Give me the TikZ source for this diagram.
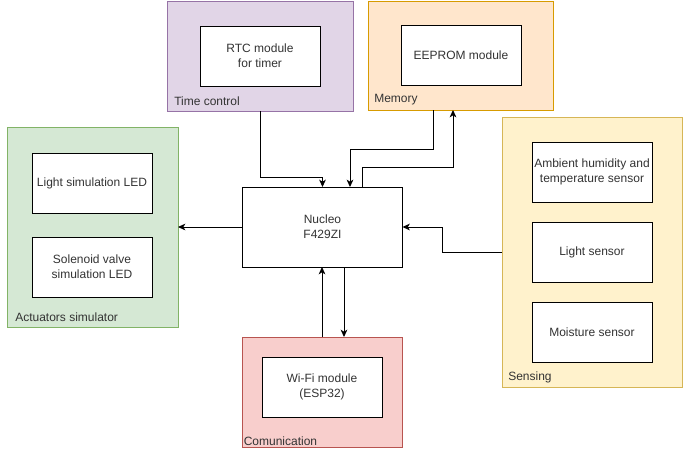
\documentclass[tikz,border=0pt]{standalone}
\usepackage{fontspec}
\setmainfont{Liberation Sans}
\usetikzlibrary{arrows.meta}
\definecolor{purpfill}{HTML}{E1D5E7}\definecolor{purpline}{HTML}{9673A6}
\definecolor{orfill}{HTML}{FFE6CC}\definecolor{orline}{HTML}{D79B00}
\definecolor{grfill}{HTML}{D5E8D4}\definecolor{grline}{HTML}{82B366}
\definecolor{yefill}{HTML}{FFF2CC}\definecolor{yeline}{HTML}{D6B656}
\definecolor{refill}{HTML}{F8CECC}\definecolor{reline}{HTML}{B85450}
\definecolor{txt}{HTML}{333333}
\tikzset{
  grp/.style={draw, line width=0.75pt, inner sep=0pt, outer sep=0pt},
  blk/.style={draw, fill=white, line width=0.75pt, minimum width=90pt, minimum height=45pt,
    align=center, inner sep=1pt, outer sep=0pt, font=\fontsize{9pt}{11pt}\selectfont, text=txt},
  glabel/.style={anchor=west, inner sep=0pt, font=\fontsize{9pt}{11pt}\selectfont, text=txt},
  arr/.style={draw, line width=0.75pt, -{Stealth[length=5.5pt,width=5pt,inset=1.5pt]}},
}
\begin{document}
\begin{tikzpicture}[x=0.75pt,y=-0.75pt]
\useasboundingbox (0,0) rectangle (683,458);
% groups
\node[grp, fill=purpfill, draw=purpline, minimum width=139.5pt, minimum height=82.5pt] (tc) at (260,56) {};
\node[grp, fill=orfill, draw=orline, minimum width=138.75pt, minimum height=81.75pt] (mem) at (460.5,55.5) {};
\node[grp, fill=grfill, draw=grline, minimum width=128.25pt, minimum height=150pt] (act) at (92.5,227) {};
\node[grp, fill=yefill, draw=yeline, minimum width=135pt, minimum height=202.5pt] (sen) at (592,252) {};
\node[grp, fill=refill, draw=reline, minimum width=120pt, minimum height=82.5pt] (com) at (322,392) {};
% group labels
\node[glabel] (tcl) at (174,101) {Time control};
\node[glabel] (meml) at (374,100) {Memory};
\node[glabel] (actl) at (15,317) {Actuators simulator};
\node[glabel] (senl) at (508,377) {Sensing};
\node[glabel] (coml) at (243.5,441) {Comunication};
% blocks
\node[blk] (rtc) at (260,56) {RTC module\\for timer};
\node[blk] (eep) at (461,55) {EEPROM module};
\node[blk] (led1) at (92,183) {Light simulation LED};
\node[blk] (led2) at (92,267) {Solenoid valve\\simulation LED};
\node[blk] (s1) at (592,172) {Ambient humidity and\\temperature sensor};
\node[blk] (s2) at (592,252) {Light sensor};
\node[blk] (s3) at (592,332) {Moisture sensor};
\node[blk] (wifi) at (322,387) {Wi-Fi module\\(ESP32)};
\node[blk, minimum width=120pt, minimum height=60pt] (nuc) at (322.5,227) {Nucleo\\F429ZI};
% connectors
\draw[arr] (tc.south) |- (322.5,177) -- (nuc.north);
\draw[arr] (433,0 |- mem.south) |- (350,149) -- (350,0 |- nuc.north);
\draw[arr] (362,0 |- nuc.north) |- (453,167.5) -- (453,0 |- mem.south);
\draw[arr] (nuc.west) -- (act.east);
\draw[arr] (sen.west) -| (442,227) -- (nuc.east);
\draw[arr] (344,0 |- nuc.south) -- (344,0 |- com.north);
\draw[arr] (322,0 |- com.north) -- (322,0 |- nuc.south);
\end{tikzpicture}
\end{document}
